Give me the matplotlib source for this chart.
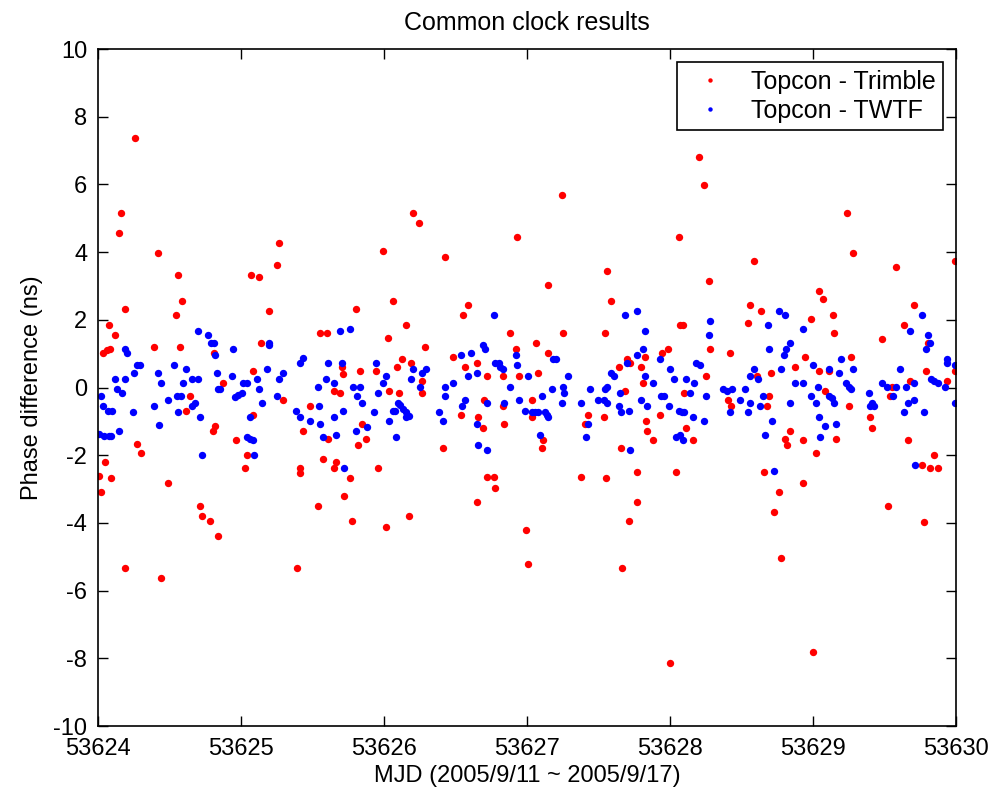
import numpy as np
import matplotlib
matplotlib.use("Agg")
import matplotlib.pyplot as plt

plt.rcParams['font.family'] = ['Liberation Sans', 'DejaVu Sans']
plt.rcParams['axes.unicode_minus'] = False

# days since MJD 53624, and phase difference in ns
mjd0 = 53624
t_trimble = [0.003, 0.019, 0.031, 0.047, 0.059, 0.077, 0.079, 0.089, 0.117, 0.145,
             0.157, 0.187, 0.189, 0.257, 0.269, 0.297, 0.392, 0.420, 0.437, 0.490,
             0.544, 0.560, 0.572, 0.588, 0.614, 0.642, 0.712, 0.724, 0.782, 0.805,
             0.810, 0.817, 0.840,
             0.875, 0.962, 1.027, 1.043, 1.069, 1.080, 1.085, 1.127, 1.139, 1.195,
             1.248, 1.265, 1.290, 1.388, 1.411, 1.413, 1.430, 1.481, 1.540, 1.551,
             1.570, 1.598, 1.610, 1.649, 1.651, 1.663, 1.691, 1.707, 1.709, 1.721,
             1.761, 1.775, 1.801, 1.820, 1.831, 1.845, 1.873,
             1.943, 1.959, 1.994, 2.011, 2.025, 2.036, 2.064, 2.092, 2.106, 2.123,
             2.151, 2.176, 2.188, 2.204, 2.246, 2.263, 2.265, 2.286, 2.414, 2.426,
             2.480, 2.536, 2.550, 2.566, 2.589, 2.648, 2.650, 2.659, 2.690, 2.699,
             2.718, 2.720, 2.771, 2.773, 2.830, 2.832, 2.841, 2.881, 2.921, 2.932,
             2.946,
             2.993, 3.009, 3.033, 3.035, 3.063, 3.079, 3.102, 3.114, 3.145, 3.147,
             3.243, 3.254, 3.378, 3.406, 3.422, 3.534, 3.546, 3.548, 3.558, 3.586,
             3.639, 3.658, 3.660, 3.686, 3.698, 3.714, 3.716, 3.768, 3.770, 3.796,
             3.807, 3.826, 3.828, 3.838, 3.880, 3.931, 3.943, 3.982,
             4.001, 4.043, 4.059, 4.071, 4.090, 4.099, 4.113, 4.157, 4.199, 4.239,
             4.253, 4.269, 4.281, 4.402, 4.416, 4.425, 4.542, 4.556, 4.584, 4.607,
             4.637, 4.654, 4.677, 4.693, 4.707, 4.724, 4.763, 4.777, 4.806, 4.818,
             4.836, 4.875, 4.929, 4.931, 4.945, 4.985, 4.999, 5.022, 5.038, 5.040,
             5.069, 5.081, 5.108, 5.136, 5.148, 5.162, 5.237, 5.249, 5.265, 5.277,
             5.400, 5.412, 5.482, 5.524, 5.536, 5.552, 5.582, 5.638, 5.661, 5.675,
             5.703, 5.762, 5.774, 5.787, 5.801, 5.815, 5.843, 5.871, 5.937, 5.995,
             5.995]
d_trimble = [-2.62, -3.10, 1.02, -2.20, 1.10, 1.85, 1.15, -2.67, 1.55, 4.56,
             5.15, 2.32, -5.33, 7.38, -1.67, -1.93, 1.21, 3.97, -5.63, -2.81,
             2.15, 3.33, 1.21, 2.56, -0.68, -0.26, -3.50, -3.80, -3.93, -1.27,
             1.02, -1.13, -4.40,
             0.14, -1.56, -2.39, -1.98, 3.33, -0.80, 0.50, 3.27, 1.32, 2.27,
             3.63, 4.27, -0.38, -5.33, -2.39, -2.52, -1.27, -0.55, -3.50, 1.62,
             -2.10, 1.62, -1.51, -0.10, -2.39, -2.20, -0.16, 0.62, 0.41, -3.21,
             -2.68, -3.93, 2.33, -1.69, 0.50, -1.09, -1.51,
             0.50, -2.39, 4.03, -4.11, 1.45, -0.10, 2.56, 0.62, -0.16, 0.85,
             1.85, -3.80, 0.73, 5.15, 4.85, 0.20, -0.16, 1.20, -1.80, 3.86,
             0.91, -0.80, 2.15, 0.62, 2.45, 0.73, -3.39, -0.86, -1.21, -0.38,
             0.33, -2.63, -2.63, -2.98, 0.33, -0.55, -1.09, 1.62, 1.15, 4.45,
             0.33,
             -4.22, -5.22, -0.38, -0.86, 1.32, 0.44, -1.80, -1.56, 3.03, 1.02,
             5.69, 1.62, -2.63, -1.09, -0.80, -0.86, 1.62, -2.68, 3.44, 2.56,
             0.62, -1.80, -5.33, -0.10, 0.85, -3.93, 0.73, -2.51, -3.39, 0.62,
             0.14, 0.91, -0.98, -1.27, -1.56, -0.80, 1.02, 1.15,
             -8.15, -2.51, 4.45, 1.85, 1.85, -0.16, -1.21, -1.56, 6.82, 5.99,
             0.33, 3.15, 1.15, -0.38, 1.02, -0.55, 1.91, 2.45, 3.73, 0.33,
             2.27, -2.51, -0.55, -0.26, 0.44, -3.69, -3.10, -5.04, -1.51, -1.69,
             -1.27, 0.62, -1.56, -2.81, 0.91, 2.03, -7.81, -1.93, 2.86, 0.50,
             2.62, -0.10, 0.50, 2.15, 1.62, -1.51, 5.15, -0.55, 0.91, 3.97,
             -0.86, -1.21, 1.44, -3.51, -0.26, 0.03, 3.56, 1.85, -1.56, 0.20,
             2.45, -2.28, -3.98, 0.50, 1.32, -2.39, -1.98, -2.39, 0.20, 3.73,
             0.50]

t_twtf = [0.007, 0.019, 0.035, 0.042, 0.070, 0.072, 0.087, 0.093, 0.117, 0.129,
          0.147, 0.164, 0.187, 0.189, 0.199, 0.241, 0.252, 0.269, 0.292, 0.392,
          0.420, 0.422, 0.437, 0.490, 0.532, 0.549, 0.556, 0.577, 0.590, 0.614,
          0.654, 0.656, 0.677, 0.695, 0.697, 0.712, 0.728, 0.765, 0.790, 0.810,
          0.817, 0.833, 0.840,
          0.852, 0.934, 0.945, 0.957, 0.980, 1.003, 1.015, 1.038, 1.040, 1.062,
          1.064, 1.085, 1.087, 1.113, 1.127, 1.143, 1.183, 1.195, 1.197, 1.248,
          1.267, 1.290, 1.383, 1.411, 1.413, 1.435, 1.481, 1.540, 1.542, 1.551,
          1.570, 1.593, 1.610, 1.649, 1.651, 1.663, 1.691, 1.707, 1.709, 1.721,
          1.761, 1.780, 1.801, 1.808, 1.831, 1.845, 1.878,
          1.929, 1.943, 1.959, 1.994, 2.013, 2.036, 2.060, 2.076, 2.083, 2.095,
          2.110, 2.129, 2.153, 2.155, 2.176, 2.188, 2.204, 2.252, 2.263, 2.293,
          2.386, 2.414, 2.426, 2.428, 2.480, 2.536, 2.545, 2.566, 2.589, 2.606,
          2.648, 2.650, 2.659, 2.690, 2.706, 2.718, 2.720, 2.771, 2.773, 2.800,
          2.810, 2.834, 2.841, 2.881, 2.920, 2.932, 2.946,
          2.986, 3.009, 3.033, 3.056, 3.079, 3.091, 3.102, 3.126, 3.138, 3.145,
          3.172, 3.184, 3.200, 3.243, 3.254, 3.256, 3.285, 3.378, 3.410, 3.422,
          3.436, 3.492, 3.534, 3.541, 3.558, 3.560, 3.586, 3.605, 3.639, 3.651,
          3.655, 3.686, 3.698, 3.714, 3.716, 3.768, 3.770, 3.796, 3.807, 3.821,
          3.826, 3.838, 3.880, 3.931, 3.933, 3.954, 3.989, 3.997,
          4.029, 4.043, 4.059, 4.066, 4.082, 4.089, 4.099, 4.113, 4.141, 4.157,
          4.168, 4.183, 4.206, 4.239, 4.253, 4.269, 4.281, 4.369, 4.397, 4.416,
          4.432, 4.486, 4.526, 4.542, 4.556, 4.558, 4.584, 4.614, 4.632, 4.649,
          4.665, 4.682, 4.695, 4.712, 4.724, 4.763, 4.777, 4.795, 4.806, 4.808,
          4.836, 4.838, 4.875, 4.929, 4.931, 4.985, 4.999, 5.022, 5.031, 5.038,
          5.050,
          5.081, 5.108, 5.110, 5.130, 5.148, 5.162, 5.183, 5.195, 5.232, 5.249,
          5.265, 5.277, 5.388, 5.400, 5.412, 5.423, 5.482, 5.517, 5.559, 5.582,
          5.605, 5.638, 5.649, 5.661, 5.675, 5.703, 5.707, 5.714, 5.762, 5.774,
          5.790, 5.801, 5.815, 5.825, 5.848, 5.871, 5.925, 5.937, 5.939, 5.995,
          5.995]
d_twtf = [-1.37, -0.26, -0.55, -1.43, -0.68, -1.43, -1.43, -0.68, 0.26, -0.04,
          -1.27, -0.16, 1.15, 0.26, 1.02, -0.73, 0.44, 0.67, 0.67, -0.55,
          0.44, -1.10, 0.14, -0.38, 0.67, -0.26, -0.73, -0.26, 0.14, 0.55,
          0.26, -0.55, -0.47, 1.68, 0.26, -0.86, -1.98, 1.55, 1.32, 1.32,
          0.95, 0.44, -0.04,
          -0.04, 0.33, 1.15, -0.29, -0.22, -0.16, 0.14, 0.14, -1.45, -0.86,
          -1.51, -1.56, -1.98, 0.26, -0.04, -0.45, 0.55, 1.32, 1.27, -0.26,
          0.26, 0.44, -0.68, 0.71, -0.86, 0.86, -0.98, 0.03, -0.55, -1.09,
          -1.45, 0.26, 0.71, 0.14, -0.86, -1.39, 1.68, 0.71, -0.68, -2.39,
          1.73, 0.03, -1.27, -0.26, 0.03, -0.47, -1.16,
          -0.73, 0.73, -0.16, 0.14, 0.33, -0.98, -0.68, -0.68, -1.45, -0.45,
          -0.52, -0.63, -0.71, -0.86, -0.84, 0.26, 0.55, 0.01, 0.44, 0.55,
          -0.73, -0.98, 0.03, -0.26, 0.14, 0.97, -0.55, -0.38, 0.33, 1.02,
          0.44, -1.09, -1.69, 1.27, 1.15, -0.47, -1.86, 2.15, 0.73, 0.73,
          0.62, 0.55, -0.45, 0.03, 0.97, 0.67, -0.38,
          -0.68, 0.33, -0.73, -0.73, -0.73, -1.39, -0.26, -0.73, -0.80, -0.86,
          -0.04, 0.85, 0.85, -0.45, 0.03, -0.16, 0.33, -0.45, -1.45, -1.09,
          -0.04, -0.38, -0.38, -0.04, 0.03, -0.47, 0.44, 0.33, -0.55, -0.16,
          -0.73, 2.15, 0.73, -0.68, -1.86, 2.27, 0.97, -0.38, 1.15, 1.68,
          0.33, -0.55, 0.14, 0.85, -0.26, -0.26, -0.55, 0.55,
          0.26, -1.45, -0.68, -1.39, -0.73, -1.56, -0.73, 0.26, -0.16, -0.86,
          0.14, 0.73, 0.67, -0.98, -0.26, 1.55, 1.97, -0.04, -0.10, -0.73,
          -0.04, -0.38, -0.04, -0.73, 0.33, -0.45, 0.55, 0.26, -0.55, -0.26,
          -1.39, 1.85, 1.15, -0.98, -2.46, 2.27, 0.55, 0.97, 2.15, 1.15,
          1.32, -0.45, 0.14, 1.73, 0.14, -0.26, 0.67, -0.45, 0.03, -0.86,
          -1.45,
          -1.14, 0.55, -0.26, -0.31, -0.45, -1.09, 0.44, 0.85, 0.14, 0.03,
          -0.04, 0.55, -0.16, -0.55, -0.45, -0.55, 0.14, 0.03, -0.26, 0.03,
          0.55, -0.73, 0.03, -0.45, 1.68, 0.14, -0.38, -2.28, 2.15, -0.73,
          1.15, 1.55, 1.32, 0.26, 0.20, 0.14, 0.03, 0.85, 0.73, 0.67,
          -0.45]

x1 = mjd0 + np.array(t_trimble)
x2 = mjd0 + np.array(t_twtf)

fig = plt.figure(figsize=(9.9, 8.01), dpi=100)
ax = fig.add_axes([0.0993, 0.0936, 0.8664, 0.8452])

ax.plot(x1, d_trimble, 'o', color=(1, 0, 0), ms=5.3, mew=0, label='Topcon - Trimble')
ax.plot(x2, d_twtf, 'o', color=(0, 0, 1), ms=5.3, mew=0, label='Topcon - TWTF')

ax.set_xlim(53624, 53630)
ax.set_ylim(-10, 10)
ax.set_xticks(np.arange(53624, 53631, 1))
ax.set_yticks(np.arange(-10, 11, 2))
ax.ticklabel_format(useOffset=False, style='plain')
ax.tick_params(direction='in', length=7.5, width=1, labelsize=17,
               top=True, right=True)
ax.tick_params(axis='x', pad=8.5)
ax.tick_params(axis='y', pad=8)
for s in ax.spines.values():
    s.set_linewidth(1.2)

ax.set_title('Common clock results', fontsize=18, pad=14)
ax.set_xlabel('MJD (2005/9/11 ~ 2005/9/17)', fontsize=17, labelpad=4)
ax.set_ylabel('Phase difference (ns)', fontsize=17, labelpad=7)

leg = ax.legend(loc='upper right', fontsize=18, frameon=True, fancybox=False,
                framealpha=1, edgecolor='black', markerscale=0.6,
                handlelength=2.0, handletextpad=0.64, borderpad=0.3,
                labelspacing=0.2, borderaxespad=0.52)
leg.get_frame().set_linewidth(1.2)
# widen the box a little on the right like the original
leg._legend_box.align = 'left'

fig.savefig('out.png', dpi=100)
